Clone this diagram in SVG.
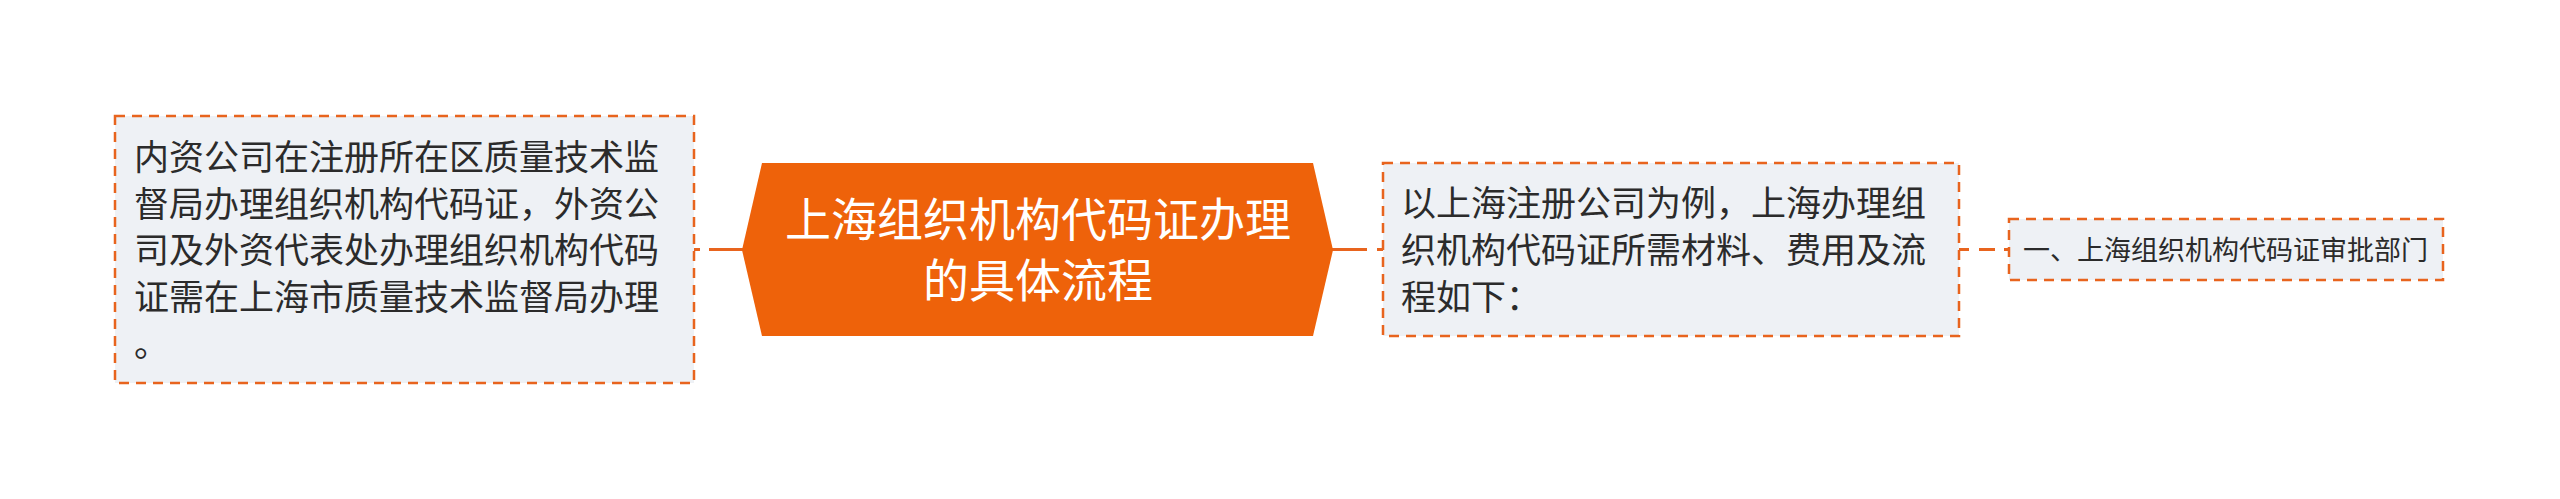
<svg xmlns="http://www.w3.org/2000/svg" width="2560" height="499" viewBox="0 0 2560 499">
<style>
.box{fill:#EEF1F5;stroke:#E8641E;stroke-width:2.5;stroke-dasharray:10 7}
.t{font-family:"Noto Sans CJK SC","Noto Sans",sans-serif;fill:#2B2B2B}
.side{font-size:35px}
.small{font-size:27px}
.center{font-size:46px;fill:#FFFFFF;text-anchor:middle}
.conn{stroke:#E8641E;stroke-width:3;fill:none}
</style>
<rect width="2560" height="499" fill="#FFFFFF"/>
<g id="connectors">
<line class="conn" x1="694" y1="249.5" x2="700" y2="249.5"/>
<line class="conn" x1="709" y1="249.5" x2="745" y2="249.5"/>
<line class="conn" x1="1331" y1="249.5" x2="1367" y2="249.5"/>
<line class="conn" x1="1377" y1="249.5" x2="1383" y2="249.5"/>
<line class="conn" x1="1959" y1="249.5" x2="1969" y2="249.5"/>
<line class="conn" x1="1979" y1="249.5" x2="1995" y2="249.5"/>
<line class="conn" x1="2004" y1="249.5" x2="2009" y2="249.5"/>
</g>
<g id="node-left">
<rect class="box" x="115" y="116" width="579" height="267"/>
<text class="t side" x="134"><tspan x="134" y="170">内资公司在注册所在区质量技术监</tspan><tspan x="134" y="217">督局办理组织机构代码证，外资公</tspan><tspan x="134" y="263">司及外资代表处办理组织机构代码</tspan><tspan x="134" y="310">证需在上海市质量技术监督局办理</tspan><tspan x="134" y="357">。</tspan></text>
</g>
<g id="node-center">
<polygon points="742,250 762,163 1313,163 1333,250 1313,336 762,336" fill="#EE620A"/>
<text class="t center"><tspan x="1038" y="236">上海组织机构代码证办理</tspan><tspan x="1038" y="297">的具体流程</tspan></text>
</g>
<g id="node-right1">
<rect class="box" x="1383" y="163" width="576" height="173"/>
<text class="t side"><tspan x="1401" y="216">以上海注册公司为例，上海办理组</tspan><tspan x="1401" y="263">织机构代码证所需材料、费用及流</tspan><tspan x="1401" y="310">程如下：</tspan></text>
</g>
<g id="node-right2">
<rect class="box" x="2009" y="219" width="434" height="61"/>
<text class="t small" x="2023" y="260">一、上海组织机构代码证审批部门</text>
</g>
</svg>
